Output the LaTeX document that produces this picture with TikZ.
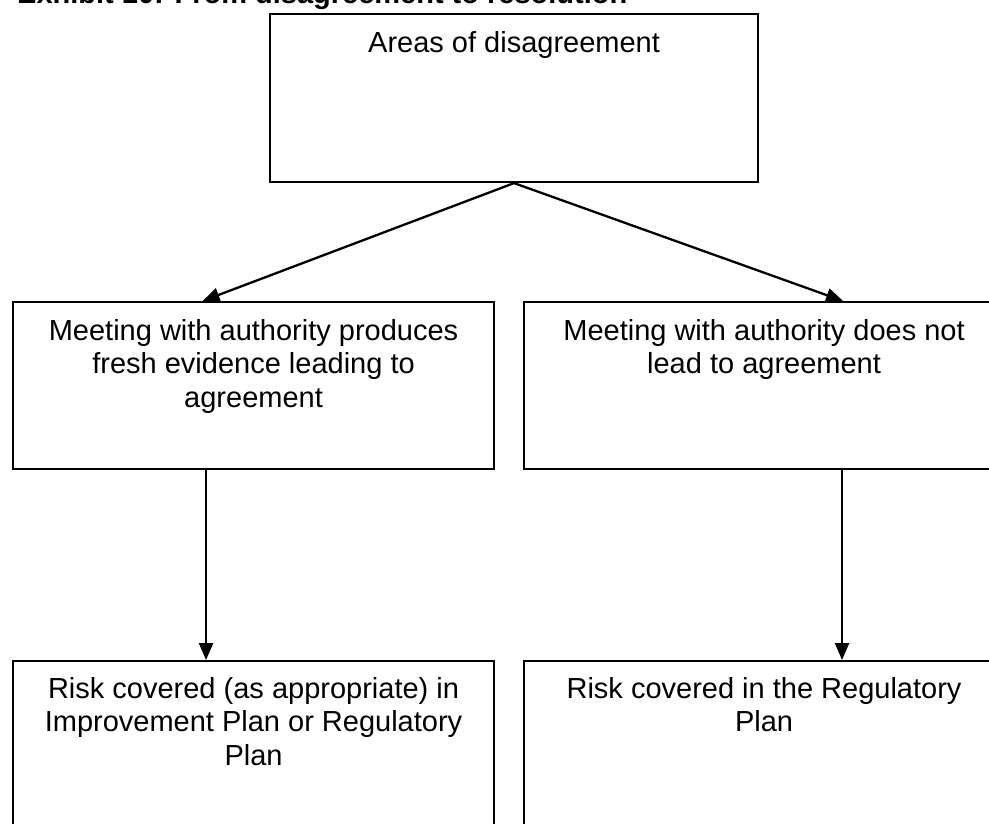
\documentclass[tikz,border=0pt]{standalone}
\usepackage{fontspec}
\setmainfont{Liberation Sans}
\usetikzlibrary{arrows.meta}
\newcommand\lnstrut{\rule{0pt}{24pt}}
\begin{document}
\begin{tikzpicture}[x=1pt,y=-1pt,
  box/.style={draw, line width=2.1pt, rectangle, inner sep=0pt, anchor=north west},
  txt/.style={anchor=north, inner sep=0pt, align=center,
    font=\fontsize{29}{33.5}\selectfont},
  arr/.style={line width=2.3pt, -{Triangle[length=17pt,width=14pt]}}]
\useasboundingbox (0,0) rectangle (989,823);

% heading
\node[anchor=base west, inner sep=0pt, font=\fontsize{29}{33.5}\selectfont\bfseries]
  (title) at (17,3) {Exhibit 10: From disagreement to resolution};

% boxes
\node[box, minimum width=488pt, minimum height=168pt] (top) at (269,13) {};
\node[box, minimum width=481pt, minimum height=167pt] (ml) at (12,301) {};
\node[box, minimum width=480pt, minimum height=167pt] (mr) at (523,301) {};
\node[box, minimum width=481pt, minimum height=230pt] (bl) at (12,660) {};
\node[box, minimum width=480pt, minimum height=230pt] (br) at (523,660) {};

% box texts
\node[txt] (ttop) at ([yshift=-15pt]top.north) {\lnstrut Areas of disagreement};
\node[txt] (tml) at ([yshift=-15pt]ml.north)
  {\lnstrut Meeting with authority produces\\fresh evidence leading to\\agreement};
\node[txt] (tmr) at ([yshift=-15pt]mr.north)
  {\lnstrut Meeting with authority does not\\lead to agreement};
\node[txt] (tbl) at ([yshift=-14pt]bl.north)
  {\lnstrut Risk covered (as appropriate) in\\Improvement Plan or Regulatory\\Plan};
\node[txt] (tbr) at ([yshift=-14pt]br.north)
  {\lnstrut Risk covered in the Regulatory\\Plan};

% connectors
\draw[arr] (top.south) -- ([xshift=-51pt]ml.north);
\draw[arr] (top.south) -- ([xshift=79pt]mr.north);
\draw[arr] ([xshift=-47.5pt]ml.south) -- ([xshift=-47.5pt]bl.north);
\draw[arr] ([xshift=78pt]mr.south) -- ([xshift=78pt]br.north);
\end{tikzpicture}
\end{document}
